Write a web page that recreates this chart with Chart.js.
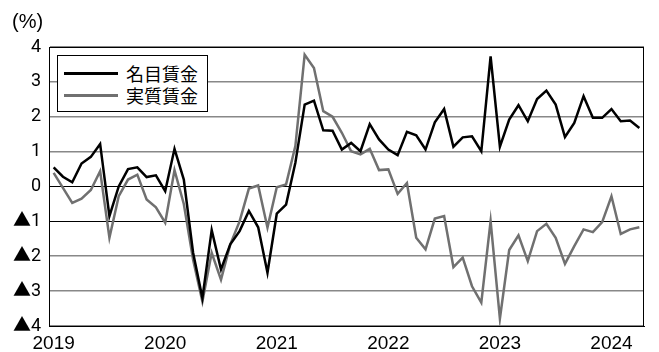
<!DOCTYPE html>
<html>
<head>
<meta charset="utf-8">
<script src="https://cdn.jsdelivr.net/npm/chart.js@4.4.1/dist/chart.umd.min.js"></script>
<style>
  body { margin: 0; background: #fff; }
  #wrap { position: relative; width: 659px; height: 352px; }
  #unit { position: absolute; left: 12px; top: 10px; font: 20px "Liberation Sans", sans-serif; color: #000; }
  #legend { position: absolute; left: 57px; top: 55px; width: 151px; height: 57px; box-sizing: border-box;
            border: 1px solid #000; background: #fff; font: 18px "Noto Sans CJK JP", sans-serif; color: #000; }
  .row { position: absolute; left: 6px; height: 22px; display: flex; align-items: center; }
  .swatch { width: 54px; height: 3px; margin-right: 8px; }
</style>
</head>
<body>
<div id="wrap">
  <canvas id="chart" width="659" height="352"></canvas>
  <div id="unit">(%)</div>
  <div id="legend"></div>
</div>
<script>
// monthly, Jan 2019 - Apr 2024 (year on year, %)
const years = [2019, 2020, 2021, 2022, 2023, 2024];
const seriesNames = ["名目賃金", "実質賃金"];
const seriesColors = ["#000000", "#707070"];

const nominal = [
  0.55, 0.28, 0.12, 0.66, 0.85, 1.22, -0.85, 0.0, 0.5, 0.55, 0.27, 0.32,
  -0.13, 1.08, 0.2, -1.9, -3.2, -1.25, -2.38, -1.66, -1.28, -0.7, -1.17, -2.47,
  -0.78, -0.52, 0.68, 2.35, 2.46, 1.61, 1.6, 1.06, 1.25, 1.01, 1.79, 1.35,
  1.06, 0.9, 1.57, 1.47, 1.06, 1.84, 2.22, 1.14, 1.41, 1.44, 1.01, 3.73,
  1.14, 1.92, 2.33, 1.87, 2.51, 2.75, 2.35, 1.42, 1.82, 2.59, 1.97, 1.97,
  2.22, 1.87, 1.89, 1.68
];
const real = [
  0.39, -0.04, -0.47, -0.35, -0.1, 0.44, -1.47, -0.28, 0.2, 0.34, -0.37, -0.6,
  -1.04, 0.47, -0.5, -2.1, -3.3, -1.9, -2.67, -1.66, -1.0, -0.06, 0.03, -1.18,
  -0.02, 0.06, 1.16, 3.78, 3.4, 2.16, 2.0, 1.54, 1.01, 0.92, 1.08, 0.47,
  0.49, -0.21, 0.1, -1.47, -1.8, -0.92, -0.85, -2.31, -2.04, -2.86, -3.33, -0.99,
  -3.79, -1.82, -1.4, -2.14, -1.28, -1.07, -1.47, -2.22, -1.71, -1.23, -1.31, -1.02,
  -0.28, -1.36, -1.23, -1.17
];

// month labels like "2019/1"
const months = [];
years.forEach(y => {
  for (let m = 1; m <= 12; m++) months.push(y + "/" + m);
});
const labels = months.slice(0, nominal.length);

// legend box (drawn inside plot like the original)
const legendEl = document.getElementById("legend");
seriesNames.forEach((name, i) => {
  const row = document.createElement("div");
  row.className = "row";
  row.style.top = (6 + i * 22) + "px";
  row.innerHTML = '<span class="swatch" style="background:' + seriesColors[i] + '"></span>' + name;
  legendEl.appendChild(row);
});

// frame round the plot area
const frame = {
  id: "frame",
  afterDraw(chart) {
    const { ctx, chartArea: a } = chart;
    ctx.save();
    ctx.strokeStyle = "#000";
    ctx.lineWidth = 1;
    ctx.strokeRect(a.left + 0.5, a.top + 0.5, a.right - a.left - 1, a.bottom - a.top);
    ctx.restore();
  }
};

new Chart(document.getElementById("chart"), {
  type: "line",
  data: {
    labels: labels,
    datasets: [
      { label: seriesNames[0], data: nominal, borderColor: seriesColors[0], borderWidth: 2.5, pointRadius: 0, tension: 0 },
      { label: seriesNames[1], data: real, borderColor: seriesColors[1], borderWidth: 2.5, pointRadius: 0, tension: 0 }
    ]
  },
  options: {
    responsive: false,
    animation: false,
    layout: { padding: { top: 47, right: 15, left: 0, bottom: 0 } },
    plugins: { legend: { display: false }, tooltip: { enabled: false } },
    scales: {
      x: {
        type: "category",
        offset: true,
        grid: { display: false },
        border: { display: true, color: "#000", width: 1 },
        ticks: {
          autoSkip: false,
          maxRotation: 0,
          color: "#000",
          padding: -2,
          font: { family: "Liberation Sans", size: 19 },
          callback(v) {
            const l = this.getLabelForValue(v);
            return l.endsWith("/1") ? l.slice(0, 4) : null;
          }
        },
        afterFit(s) { s.height = 26; }
      },
      y: {
        min: -4,
        max: 4,
        border: { display: true, color: "#000", width: 1 },
        grid: {
          drawTicks: false,
          color: c => (c.tick.value === 0 || c.tick.value === -1) ? "#000" : "#888",
          lineWidth: c => (c.tick.value === 0 || c.tick.value === -1) ? 1 : 1.6
        },
        ticks: {
          stepSize: 1,
          color: "#000",
          padding: 8,
          font: { family: 'Roboto, "Noto Sans CJK JP"', size: 18 },
          callback: v => v < 0 ? "▲" + (-v) : String(v)
        },
        afterFit(s) { s.width = 49; }
      }
    }
  },
  plugins: [frame]
});
</script>
</body>
</html>
